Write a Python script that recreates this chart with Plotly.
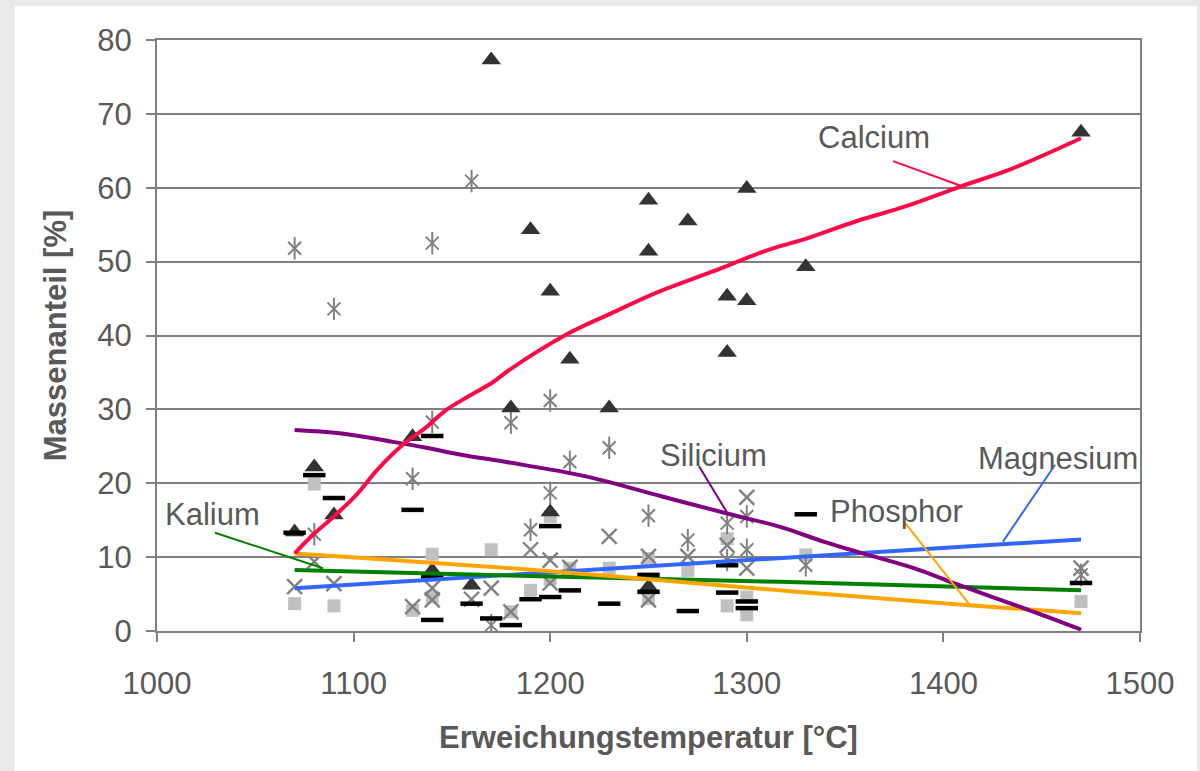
import plotly.graph_objects as go

# ---------------- data ----------------
ca_T = [1070, 1080, 1090, 1130, 1140, 1160, 1170, 1180, 1190, 1200, 1200, 1210, 1230,
        1250, 1250, 1250, 1270, 1290, 1290, 1300, 1300, 1330, 1470]
ca_V = [13.4, 22.2, 15.7, 26.3, 8.2, 6.2, 77.3, 30.2, 54.3, 46.0, 16.1, 36.8, 30.2,
        58.3, 51.4, 6.0, 55.5, 45.3, 37.7, 59.9, 44.7, 49.3, 67.5]

si_T = [1070, 1080, 1090, 1130, 1140, 1140, 1160, 1170, 1180, 1190, 1200, 1200, 1210,
        1230, 1250, 1270, 1290, 1290, 1300, 1300, 1330, 1470]
si_V = [51.8, 13.1, 43.6, 20.6, 52.5, 28.3, 60.9, 0.8, 28.2, 13.7, 31.2, 18.7, 22.9,
        24.8, 15.6, 12.3, 14.6, 9.6, 15.5, 11.0, 8.9, 7.6]

p_T = [1070, 1080, 1090, 1130, 1140, 1140, 1140, 1160, 1170, 1180, 1190, 1200, 1200,
       1210, 1230, 1250, 1250, 1270, 1290, 1290, 1300, 1300, 1330, 1470]
p_V = [13.3, 21.1, 18.0, 16.4, 26.4, 7.4, 1.5, 3.7, 1.7, 0.8, 4.3, 14.2, 4.6,
       5.5, 3.7, 7.6, 5.3, 2.7, 8.9, 5.2, 4.0, 3.1, 15.8, 6.5]

mg_T = [1070, 1080, 1090, 1130, 1140, 1140, 1160, 1170, 1180, 1190, 1200, 1200, 1210,
        1230, 1250, 1250, 1270, 1290, 1300, 1300, 1470]
mg_V = [6.0, 9.4, 6.4, 3.3, 5.8, 4.2, 4.3, 5.8, 2.6, 11.0, 9.6, 6.5, 8.6,
        12.8, 10.1, 4.2, 10.1, 11.6, 18.1, 8.5, 8.5]

k_T = [1070, 1080, 1090, 1130, 1140, 1140, 1170, 1180, 1190, 1200, 1200, 1210, 1230,
       1250, 1250, 1270, 1290, 1290, 1300, 1300, 1330, 1470]
k_V = [3.7, 19.9, 3.4, 2.8, 10.4, 4.6, 11.0, 2.6, 5.5, 15.5, 7.0, 8.5, 8.5,
       9.8, 4.4, 8.2, 12.5, 3.4, 4.6, 2.2, 10.3, 4.0]

# trend lines
ca_trend_T = [1070, 1080, 1090, 1102, 1112, 1125, 1137, 1147, 1158, 1171, 1179, 1208,
              1231, 1255, 1282, 1311, 1329, 1356, 1381, 1409, 1435, 1470]
ca_trend_V = [10.5, 13.2, 15.5, 18.6, 21.8, 25.2, 27.6, 29.9, 31.7, 33.7, 35.3, 40.1,
              43.0, 45.9, 48.6, 51.6, 53.0, 55.5, 57.5, 60.2, 62.6, 66.7]
si_trend_T = [1070, 1095, 1120, 1137, 1154, 1177, 1217, 1257, 1293, 1317, 1339, 1359,
              1385, 1405, 1425, 1446, 1470]
si_trend_V = [27.2, 26.7, 25.6, 24.8, 23.9, 22.9, 21.0, 18.2, 15.7, 14.1, 12.1, 10.5,
              8.5, 6.5, 4.6, 2.6, 0.2]
mg_trend_T = [1070, 1470]
mg_trend_V = [5.8, 12.4]
k_trend_T = [1070, 1195, 1317, 1470]
k_trend_V = [8.25, 7.4, 6.65, 5.5]
p_trend_T = [1070, 1195, 1317, 1413, 1470]
p_trend_V = [10.5, 8.2, 5.5, 3.5, 2.4]

x_ticks = [1000, 1100, 1200, 1300, 1400, 1500]
y_ticks = [0, 10, 20, 30, 40, 50, 60, 70, 80]

labels = ["Calcium", "Silicium", "Kalium", "Magnesium", "Phosphor"]

# ---------------- styles ----------------
FONT = "Liberation Sans Narrow, Arial Narrow, Liberation Sans, Arial, sans-serif"
FS = 31
TXT = "#595959"
GRID = "#808080"
C_CA = "#ff0a47"
C_SI = "#800080"
C_MG = "#3366ff"
C_K = "#008000"
C_P = "#ffa500"

fig = go.Figure()

# markers
fig.add_trace(go.Scatter(x=k_T, y=k_V, mode="markers",
                         marker=dict(symbol="square", size=13, color="#c0c0c0")))
fig.add_trace(go.Scatter(x=mg_T, y=mg_V, mode="markers",
                         marker=dict(symbol="x-thin-open", size=15, color="#808080",
                                     line=dict(width=2.4, color="#808080"))))
fig.add_trace(go.Scatter(x=si_T, y=si_V, mode="markers",
                         marker=dict(symbol="x-thin-open", size=13, color="#808080",
                                     line=dict(width=2, color="#808080"))))
fig.add_trace(go.Scatter(x=si_T, y=si_V, mode="markers",
                         marker=dict(symbol="line-ns-open", size=16, color="#808080",
                                     line=dict(width=2, color="#808080"))))
fig.add_trace(go.Scatter(x=ca_T, y=ca_V, mode="markers",
                         marker=dict(symbol="triangle-up", size=17, color="#333333")))
fig.add_trace(go.Scatter(x=p_T, y=p_V, mode="markers",
                         marker=dict(symbol="line-ew-open", size=16, color="#000000",
                                     line=dict(width=4.5, color="#000000"))))

# trend lines
fig.add_trace(go.Scatter(x=mg_trend_T, y=mg_trend_V, mode="lines",
                         line=dict(color=C_MG, width=4)))
fig.add_trace(go.Scatter(x=k_trend_T, y=k_trend_V, mode="lines",
                         line=dict(color=C_K, width=4, shape="spline")))
fig.add_trace(go.Scatter(x=p_trend_T, y=p_trend_V, mode="lines",
                         line=dict(color=C_P, width=4, shape="spline")))
fig.add_trace(go.Scatter(x=si_trend_T, y=si_trend_V, mode="lines",
                         line=dict(color=C_SI, width=4, shape="spline")))
fig.add_trace(go.Scatter(x=ca_trend_T, y=ca_trend_V, mode="lines",
                         line=dict(color=C_CA, width=4, shape="spline")))

# label texts and leader lines
label_pos = {
    "Calcium": (1364.7, 66.8),
    "Silicium": (1283.3, 23.7),
    "Kalium": (1028.0, 15.8),
    "Magnesium": (1458.3, 23.4),
    "Phosphor": (1375.9, 16.2),
}
leaders = {
    "Calcium": ((1374.4, 63.6), (1409.5, 60.2), C_CA),
    "Silicium": ((1275.7, 22.3), (1289.8, 16.1), C_SI),
    "Kalium": ((1029.5, 13.3), (1084.4, 8.5), C_K),
    "Magnesium": ((1456.8, 22.5), (1430.3, 12.1), C_MG),
    "Phosphor": ((1380.5, 14.65), (1413.2, 3.6), C_P),
}

shapes = [
    dict(type="rect", xref="paper", yref="paper", x0=-0.1445, x1=1.058,
         y0=-0.3, y1=1.0575, fillcolor="white", line=dict(width=0), layer="below"),
]
for name in labels:
    (x0, y0), (x1, y1), col = leaders[name]
    shapes.append(dict(type="line", xref="x", yref="y", x0=x0, y0=y0, x1=x1, y1=y1,
                       line=dict(color=col, width=2)))

annotations = []
for name in labels:
    tx, ty = label_pos[name]
    annotations.append(dict(x=tx, y=ty, xref="x", yref="y", text=name, showarrow=False,
                            xanchor="center", yanchor="middle",
                            font=dict(family=FONT, size=FS, color=TXT)))

fig.update_layout(
    width=1200, height=771,
    margin=dict(l=157, r=60, t=40, b=140),
    paper_bgcolor="#e9e9e9",
    plot_bgcolor="white",
    showlegend=False,
    shapes=shapes,
    annotations=annotations,
    font=dict(family=FONT, size=FS, color=TXT),
)
fig.update_xaxes(
    range=[1000, 1500], tickmode="array", tickvals=x_ticks,
    ticktext=[str(v) for v in x_ticks],
    showgrid=False, zeroline=False,
    showline=True, linecolor=GRID, linewidth=2, mirror=True,
    ticks="outside", ticklen=9, tickcolor=GRID, tickwidth=2,
    ticklabelstandoff=15,
    tickfont=dict(family=FONT, size=FS, color=TXT),
    title=dict(text="<b>Erweichungstemperatur [°C]</b>", standoff=26,
               font=dict(family=FONT, size=FS, color=TXT)),
)
fig.update_yaxes(
    range=[0, 80], tickmode="array", tickvals=y_ticks,
    ticktext=[str(v) for v in y_ticks],
    showgrid=True, gridcolor=GRID, gridwidth=1.5, zeroline=False,
    showline=True, linecolor=GRID, linewidth=2, mirror=True,
    ticks="outside", ticklen=9, tickcolor=GRID, tickwidth=2,
    ticklabelstandoff=8,
    tickfont=dict(family=FONT, size=FS, color=TXT),
    title=dict(text="<b>Massenanteil [%]</b>", standoff=21,
               font=dict(family=FONT, size=FS, color=TXT)),
)

fig.write_html("out.html", config={"displayModeBar": False},
               post_script="document.body.style.margin='0px';")
